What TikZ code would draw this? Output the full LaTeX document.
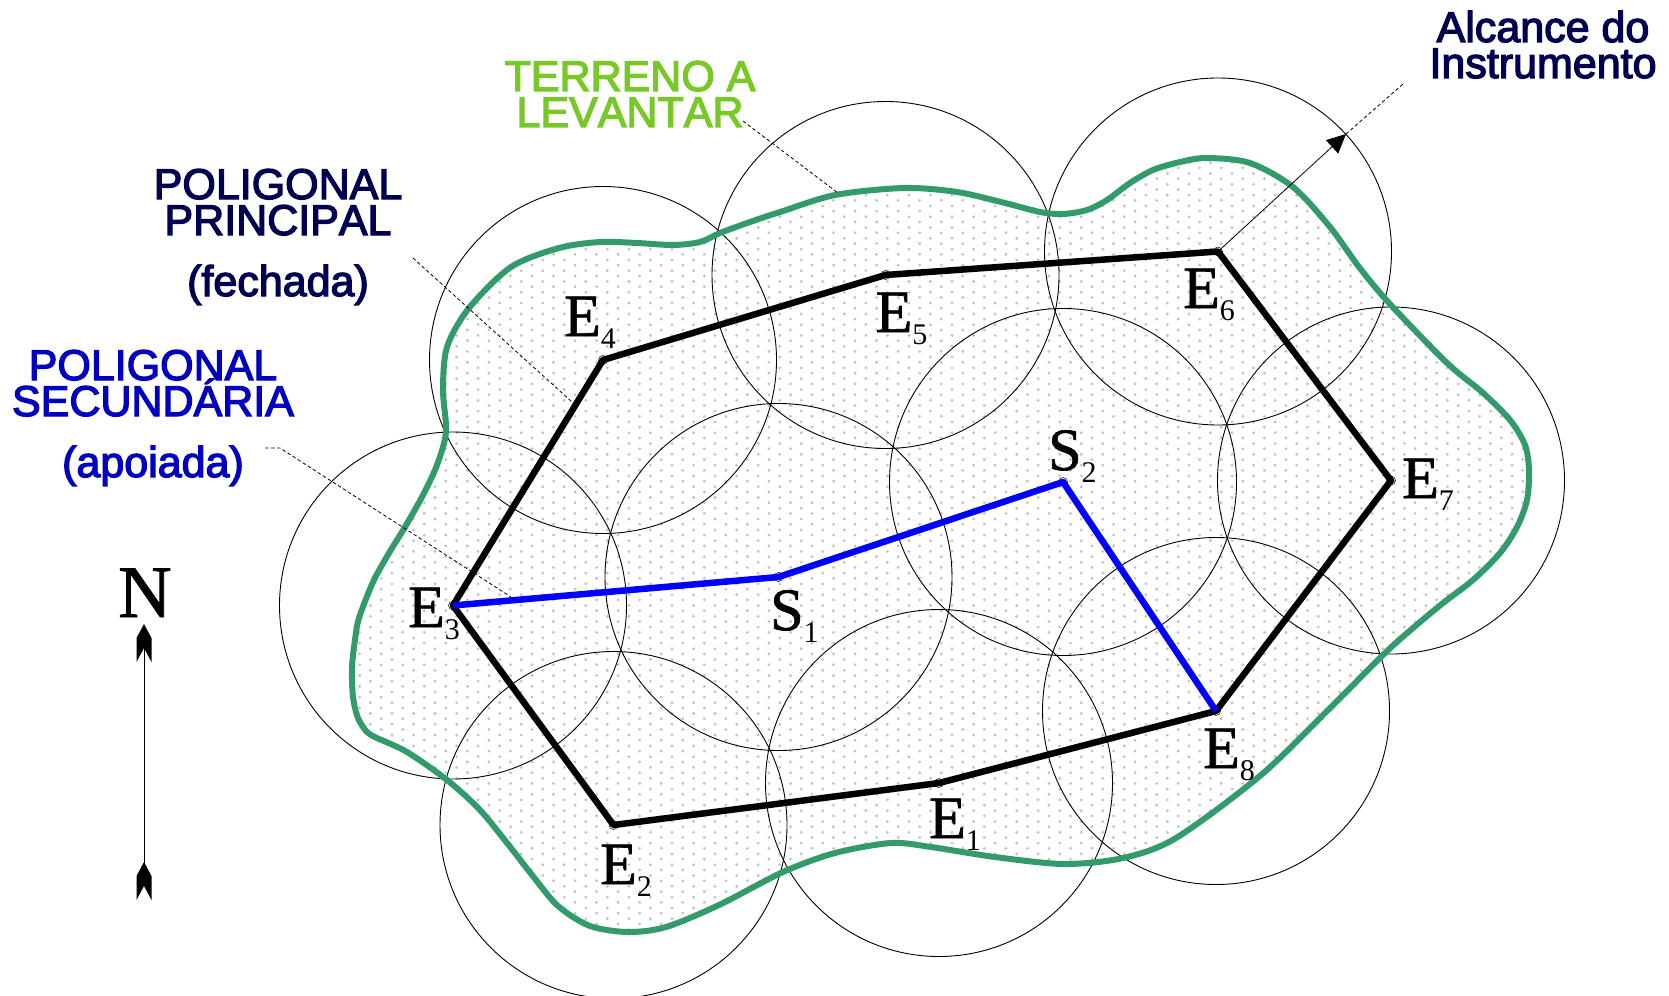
\documentclass[tikz,border=0pt]{standalone}
\usepackage{fontspec}
\setmainfont{Liberation Serif}
\newfontfamily\sanslab[FakeBold=3,Kerning=Off]{Liberation Sans}
\newfontfamily\stnfont[FakeBold=1.2]{Liberation Serif}
\usetikzlibrary{arrows.meta}
\lineskiplimit=-100pt\relax
\definecolor{terrain}{RGB}{51,155,107}
\definecolor{dotgray}{RGB}{195,195,195}
\definecolor{navy}{RGB}{0,0,80}
\definecolor{royal}{RGB}{0,0,190}
\definecolor{lime}{RGB}{120,200,40}
\newcommand{\stn}[2]{#1\raisebox{-12pt}{\rmfamily\fontsize{30}{30}\selectfont #2}}
\tikzset{
  vtx/.style={circle,draw=black,line width=0.5pt,minimum size=9pt,inner sep=0pt},
  rangecircle/.style={draw=black,line width=0.9pt},
  mainline/.style={line width=6.5pt,black,line join=round},
  subline/.style={line width=6.5pt,blue,line join=round},
  leader/.style={line width=0.8pt,dashed,dash pattern=on 3.5pt off 2.5pt},
  stationlabel/.style={anchor=base west,inner sep=0pt,font=\stnfont\fontsize{60}{60}\selectfont},
  notelabel/.style={anchor=base,inner sep=0pt,align=center,font=\sanslab\fontsize{43}{36}\selectfont},
}
\newcommand{\northhead}[2]{\fill (#1-7.5,#2+14) -- (#1,#2) -- (#1+7.5,#2+14) -- (#1+7.5,#2+38) -- (#1,#2+24) -- (#1-7.5,#2+38) -- cycle;}
\begin{document}
\begin{tikzpicture}[x=1pt,y=-1pt]
\useasboundingbox (0,0) rectangle (1669,995);
\def\terrainpath{plot[smooth cycle,tension=0.5] coordinates {
 (628,932)(590,926)(558,906)(532,875)(511,848)(480,810)(447,780)(407,752)(377,738)(367,732)(358,718)(353,697)(352,667)(355,640)
 (359,618)(373,582)(389,553)(405,527)(423,495)(437,465)(446,432)(443,390)(447,347)(469,308)(511,267)(559,248)(600,242)(637,243)(673,245)(700,242)(720,233)(750,222)(780,212)(835,195)
 (904,188)(957,192)(1005,203)(1040,212)(1063,214)(1087,210)(1107,200)(1130,183)(1153,170)(1180,162)(1207,158)(1250,163)(1293,187)(1330,227)(1359,267)
 (1389,303)(1447,363)(1482,392)(1510,420)(1525,445)(1529,470)(1527,500)(1517,527)(1500,553)(1473,580)(1443,603)(1413,628)(1385,653)(1330,708)(1261,775)(1176,838)
 (1123,858)(1064,864)(995,857)(931,847)(891,843)(835,853)(783,872)(719,905)(666,927)}}
% stippled fill
\begin{scope}
 \clip \terrainpath;
 \foreach \i in {-34,-32,...,78}{
  \fill[dotgray] \foreach \j in {-42,...,31}{ (704.3+\i*10.77,610.7+\j*10.8) circle[radius=1.6pt] };
 }
 \foreach \i in {-33,-31,...,77}{
  \fill[dotgray] \foreach \j in {-42,...,31}{ (704.3+\i*10.77,605.5+\j*10.8) circle[radius=1.6pt] };
 }
\end{scope}
% stations
\node[vtx] (E1) at (939,783) {};
\node[vtx] (E2) at (613.5,825) {};
\node[vtx] (E3) at (453,605.5) {};
\node[vtx] (E4) at (603,360) {};
\node[vtx] (E5) at (885.5,275) {};
\node[vtx] (E6) at (1218,251.5) {};
\node[vtx] (E7) at (1391,480.5) {};
\node[vtx] (E8) at (1216,711) {};
\node[vtx] (S1) at (778.5,577) {};
\node[vtx] (S2) at (1063,482) {};
\foreach \n in {E1,E2,E3,E4,E5,E6,E7,E8,S1,S2}
  \draw[rangecircle] (\n.center) circle[radius=173.5pt];
\draw[terrain,line width=6pt] \terrainpath;
\draw[mainline] (E1.center) -- (E2.center) -- (E3.center) -- (E4.center) -- (E5.center) -- (E6.center) -- (E7.center) -- (E8.center) -- cycle;
\draw[subline] (E3.center) -- (S1.center) -- (S2.center) -- (E8.center);
% station labels
\node[stationlabel] (lE1) at (929,838) {\stn{E}{1}};
\node[stationlabel] (lE2) at (600,884) {\stn{E}{2}};
\node[stationlabel] (lE3) at (408,627) {\stn{E}{3}};
\node[stationlabel] (lE4) at (564,336) {\stn{E}{4}};
\node[stationlabel] (lE5) at (875.5,332) {\stn{E}{5}};
\node[stationlabel] (lE6) at (1183,308) {\stn{E}{6}};
\node[stationlabel] (lE7) at (1402,498) {\stn{E}{7}};
\node[stationlabel] (lE8) at (1203,768) {\stn{E}{8}};
\node[stationlabel] (lS1) at (770,630) {\stn{S}{1}};
\node[stationlabel] (lS2) at (1048,470) {\stn{S}{2}};
% note labels
\node[notelabel,text=lime] (terreno) at (630,127) {TERRENO A\\LEVANTAR};
\node[notelabel,text=navy] (principal) at (278,296) {POLIGONAL\\PRINCIPAL\\[25pt](fechada)};
\node[notelabel,text=royal] (secundaria) at (153,477) {POLIGONAL\\SECUNDÁRIA\\[25pt](apoiada)};
\node[notelabel,text=navy] (alcance) at (1543,78) {Alcance do\\Instrumento};
% leaders
\coordinate (a1) at (743,121); \coordinate (a2) at (838,193);
\coordinate (b1) at (413,258); \coordinate (b2) at (572,402);
\coordinate (c0) at (265,448); \coordinate (c1) at (280,448); \coordinate (c2) at (511,597);
\coordinate (tip) at (1346,134); \coordinate (d2) at (1403,84);
\draw[leader] (a1) -- (a2);
\draw[leader] (b1) -- (b2);
\draw[leader] (c0) -- (c1) -- (c2);
\draw[leader] (tip) -- (d2);
\draw[line width=0.8pt,-{Triangle[length=19pt,width=18pt]}] (E6.center) -- (tip);
% north arrow
\node[anchor=base west,inner sep=0pt,font=\stnfont\fontsize{74}{74}\selectfont] (north) at (118,617) {N};
\coordinate (nt) at (144,640); \coordinate (nb) at (144,880);
\draw[line width=0.8pt] (nb) -- (nt);
\northhead{144}{624}
\northhead{144}{862}
\end{tikzpicture}
\end{document}
